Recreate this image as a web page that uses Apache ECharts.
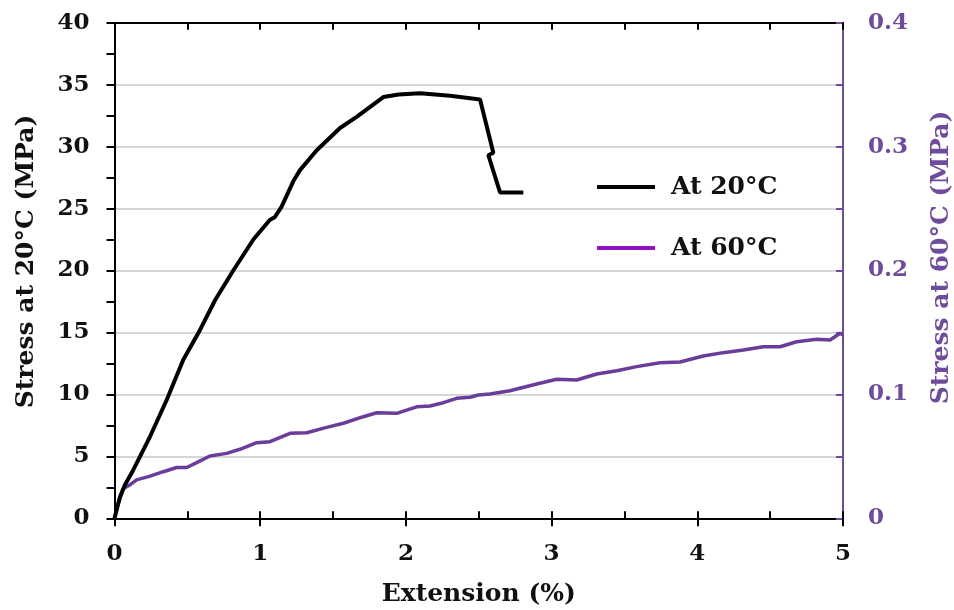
<!DOCTYPE html>
<html>
<head>
<meta charset="utf-8">
<script src="https://cdn.jsdelivr.net/npm/echarts@6/dist/echarts.min.js"></script>
<style>html,body{margin:0;padding:0;background:#fff}#c{width:954px;height:610px}</style>
</head>
<body>
<div id="c"></div>
<script>
// Extension (%) and stress at 20°C (MPa)
const ext20 = [0, 0.038, 0.072, 0.129, 0.244, 0.358, 0.472, 0.587, 0.69, 0.815, 0.953, 1.067, 1.10, 1.147, 1.227, 1.273, 1.388, 1.548, 1.662, 1.845, 1.95, 2.097, 2.303, 2.509, 2.6, 2.566, 2.646, 2.806];
const stress20 = [0, 1.74, 2.7, 3.9, 6.6, 9.55, 12.8, 15.2, 17.6, 20.0, 22.5, 24.1, 24.3, 25.15, 27.2, 28.1, 29.7, 31.5, 32.4, 34.0, 34.2, 34.3, 34.1, 33.8, 29.5, 29.3, 26.3, 26.3];
// Extension (%) and stress at 60°C (MPa)
const ext60 = [0, 0.026, 0.06, 0.106, 0.152, 0.244, 0.335, 0.427, 0.496, 0.564, 0.655, 0.77, 0.861, 0.976, 1.067, 1.205, 1.319, 1.456, 1.571, 1.708, 1.8, 1.937, 2.074, 2.165, 2.257, 2.349, 2.44, 2.497, 2.577, 2.714, 2.898, 3.035, 3.172, 3.31, 3.447, 3.584, 3.744, 3.881, 4.041, 4.178, 4.316, 4.453, 4.568, 4.682, 4.82, 4.911, 4.98, 5.0];
const stress60 = [0, 0.012, 0.024, 0.027, 0.031, 0.034, 0.0376, 0.041, 0.041, 0.0449, 0.0503, 0.0524, 0.0557, 0.061, 0.0618, 0.0686, 0.0691, 0.0734, 0.0767, 0.082, 0.0852, 0.0847, 0.09, 0.0906, 0.0933, 0.0968, 0.0977, 0.0995, 0.1003, 0.103, 0.1084, 0.1122, 0.1116, 0.1165, 0.1191, 0.1224, 0.1256, 0.1262, 0.131, 0.1337, 0.1358, 0.1385, 0.1385, 0.1425, 0.1445, 0.1439, 0.1493, 0.148];
const seriesNames = ['At 20°C', 'At 60°C'];
const xTitle = 'Extension (%)';
const yLeftTitle = 'Stress at 20°C (MPa)';
const yRightTitle = 'Stress at 60°C (MPa)';

const FONT = 'DejaVu Serif';
const PURPLE = '#6a3d9a';
const PURPLE_AXIS = '#6f4c9b';
const gridBox = {left: 114.5, right: 111, top: 22.7, bottom: 91.7, containLabel: false, outerBoundsMode: 'none'};

const chart = echarts.init(document.getElementById('c'), null, {renderer: 'canvas'});
chart.setOption({
  animation: false,
  backgroundColor: '#fff',
  grid: [Object.assign({}, gridBox), Object.assign({}, gridBox)],
  legend: {
    orient: 'vertical', left: 592, top: 169.5,
    icon: 'rect', itemWidth: 58, itemHeight: 4, itemGap: 36,
    textStyle: {fontFamily: FONT, fontWeight: 'bold', fontSize: 25, color: '#111', lineHeight: 25, padding: [0, 0, 0, 11]},
    data: [
      {name: seriesNames[0], itemStyle: {color: '#000'}},
      {name: seriesNames[1], itemStyle: {color: '#9410c4'}}
    ]
  },
  xAxis: [
    {
      gridIndex: 0, type: 'value', min: 0, max: 5, interval: 0.5, position: 'bottom',
      axisLine: {show: true, onZero: false, lineStyle: {color: '#000', width: 2}},
      axisTick: {show: true, inside: true, length: 7, lineStyle: {color: '#000', width: 2}},
      axisLabel: {margin: 24, fontFamily: FONT, fontWeight: 'bold', fontSize: 23, color: '#111',
        formatter: v => (Math.abs(v - Math.round(v)) < 1e-9 ? String(Math.round(v)) : '')},
      splitLine: {show: false},
      name: xTitle, nameLocation: 'middle', nameGap: 64,
      nameTextStyle: {fontFamily: FONT, fontWeight: 'bold', fontSize: 25, color: '#111'}
    },
    {
      gridIndex: 0, type: 'value', min: 0, max: 5, interval: 0.5, position: 'top',
      axisLine: {show: true, onZero: false, lineStyle: {color: '#000', width: 2}},
      axisTick: {show: true, inside: true, length: 7, lineStyle: {color: '#000', width: 2}},
      axisLabel: {show: false}, splitLine: {show: false}
    },
    {
      gridIndex: 1, type: 'value', min: 0, max: 5, interval: 1, position: 'bottom',
      axisLine: {show: false, onZero: false},
      axisTick: {show: true, inside: false, length: 8, lineStyle: {color: '#000', width: 2}},
      axisLabel: {show: false}, splitLine: {show: false}
    }
  ],
  yAxis: [
    {
      gridIndex: 0, type: 'value', min: 0, max: 40, interval: 5, position: 'left',
      axisLine: {show: true, onZero: false, lineStyle: {color: '#000', width: 2}},
      axisTick: {show: true, inside: false, length: 8, lineStyle: {color: '#000', width: 2}},
      minorTick: {show: true, splitNumber: 2, length: 8, lineStyle: {color: '#000', width: 2}},
      axisLabel: {margin: 25, fontFamily: FONT, fontWeight: 'bold', fontSize: 23, color: '#111'},
      splitLine: {show: true, lineStyle: {color: '#d6d6d6', width: 2}},
      name: yLeftTitle, nameLocation: 'middle', nameRotate: 90, nameGap: 76,
      nameTextStyle: {fontFamily: FONT, fontWeight: 'bold', fontSize: 25, color: '#111', padding: [0, 0, 0, 18]}
    },
    {
      gridIndex: 0, type: 'value', min: 0, max: 0.4, interval: 0.1, position: 'right',
      axisLine: {show: true, onZero: false, lineStyle: {color: PURPLE_AXIS, width: 2}},
      axisTick: {show: true, inside: true, length: 7, lineStyle: {color: PURPLE_AXIS, width: 2}},
      minorTick: {show: true, splitNumber: 2, length: 7, lineStyle: {color: PURPLE_AXIS, width: 2}},
      axisLabel: {margin: 25, fontFamily: FONT, fontWeight: 'bold', fontSize: 23, color: PURPLE_AXIS},
      splitLine: {show: false},
      name: yRightTitle, nameLocation: 'middle', nameRotate: 90, nameGap: 86,
      nameTextStyle: {fontFamily: FONT, fontWeight: 'bold', fontSize: 25, color: PURPLE_AXIS, padding: [0, 0, 0, 26]}
    },
    {gridIndex: 1, type: 'value', min: 0, max: 40, show: false}
  ],
  series: [
    {
      name: seriesNames[1], type: 'line', xAxisIndex: 0, yAxisIndex: 1,
      data: ext60.map((x, i) => [x, stress60[i]]),
      showSymbol: false, symbol: 'none', z: 2,
      lineStyle: {color: PURPLE, width: 3.5}, itemStyle: {color: PURPLE}
    },
    {
      name: seriesNames[0], type: 'line', xAxisIndex: 0, yAxisIndex: 0,
      data: ext20.map((x, i) => [x, stress20[i]]),
      showSymbol: false, symbol: 'none', z: 3,
      lineStyle: {color: '#000', width: 4}, itemStyle: {color: '#000'}
    }
  ]
});
</script>
</body>
</html>
